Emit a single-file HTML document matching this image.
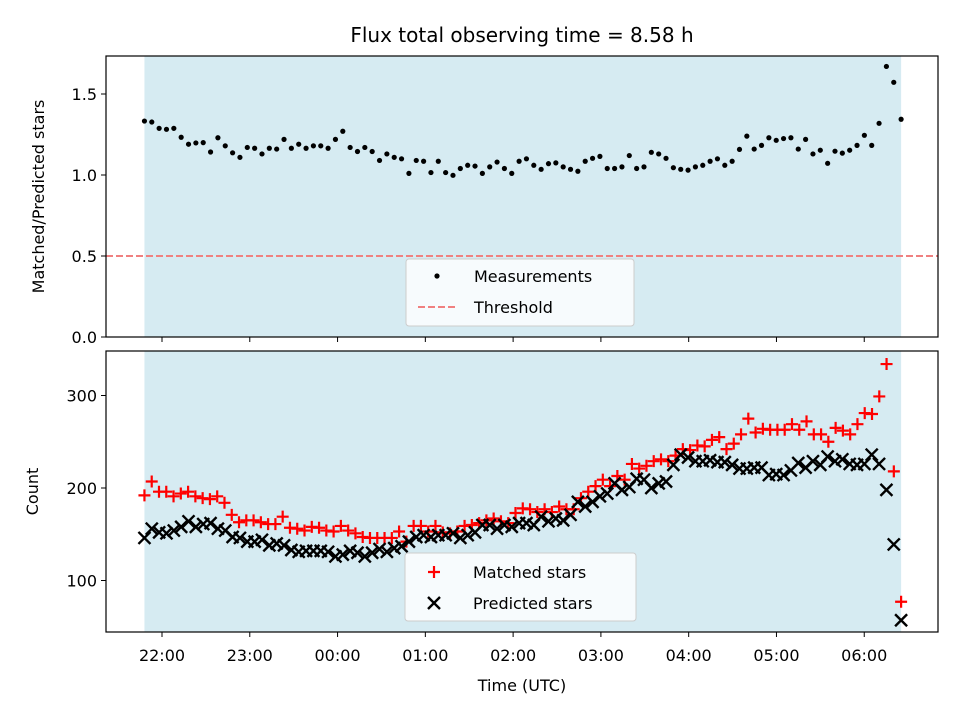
<!DOCTYPE html>
<html><head><meta charset="utf-8"><style>
body{margin:0;background:#fff;font-family:"Liberation Sans","DejaVu Sans",sans-serif}
svg text{font-family:"DejaVu Sans","Liberation Sans",sans-serif;fill:#000}
</style></head><body>
<svg id="chart" width="960" height="720" viewBox="0 0 960 720" xmlns="http://www.w3.org/2000/svg">
<rect width="960" height="720" fill="#fff"/>
<text x="522" y="42" font-size="20" text-anchor="middle">Flux total observing time = 8.58 h</text>
<g id="topPanel"></g><g id="botPanel"></g><g id="xaxis"></g>
</svg>
<script>
const ratioValues=[1.333,1.327,1.288,1.282,1.288,1.233,1.19,1.198,1.2,1.142,1.23,1.18,1.137,1.109,1.17,1.165,1.13,1.165,1.16,1.22,1.165,1.19,1.165,1.18,1.18,1.165,1.22,1.27,1.17,1.145,1.17,1.145,1.09,1.13,1.109,1.1,1.01,1.09,1.085,1.015,1.085,1.015,0.998,1.04,1.06,1.055,1.01,1.05,1.08,1.04,1.01,1.085,1.1,1.06,1.035,1.07,1.075,1.05,1.035,1.023,1.085,1.103,1.115,1.04,1.04,1.05,1.12,1.04,1.05,1.14,1.13,1.103,1.045,1.035,1.03,1.05,1.06,1.085,1.1,1.06,1.085,1.158,1.24,1.16,1.183,1.23,1.214,1.225,1.23,1.16,1.22,1.13,1.153,1.072,1.147,1.135,1.153,1.183,1.245,1.183,1.319,1.67,1.572,1.344];
const matchedValues=[192,207,196,196,191,194,196,191,189,188,191,184,171,163,165,165,163,161,161,169,157,156,154,158,157,154,153,159,154,151,147,146,146,146,146,153,142,159,159,153,159,152,151,153,159,160,162,165,167,164,162,173,178,177,174,177,174,180,177,177,189,196,202,209,202,213,209,226,221,224,229,231,229,235,242,241,246,245,252,255,242,248,258,275,260,264,263,263,263,269,263,272,258,258,250,265,262,258,269,281,280,299,334,218,77];
const predictedValues=[146,156,152,151,154,158,164,158,161,162,156,154,147,146,142,142,144,138,140,138,133,131,132,132,132,131,126,128,132,130,126,130,134,131,135,137,142,147,149,147,149,149,151,146,149,152,160,160,156,160,158,162,162,160,169,164,167,165,171,185,180,185,191,194,205,198,201,210,209,200,205,207,225,236,233,229,229,230,228,228,225,221,221,222,222,214,215,214,219,227,222,229,225,234,229,231,226,225,226,236,226,198,139,57];
const xTickLabels=["22:00","23:00","00:00","01:00","02:00","03:00","04:00","05:00","06:00"];
const xTickHours=[22,23,24,25,26,27,28,29,30];
const topYTicks=[0.0,0.5,1.0,1.5];
const botYTicks=[100,200,300];
const threshold=0.5;
const tStart=21.8, tEnd=30.42;

const NS="http://www.w3.org/2000/svg";
const L=106,R=938;
const xScale=h=>162+(h-22)*87.78;
const yTop=v=>337-v*162;
const yBot=v=>488-(v-200)*0.925;
function mk(tag,attrs,parent){const e=document.createElementNS(NS,tag);for(const k in attrs)e.setAttribute(k,attrs[k]);parent.appendChild(e);return e;}
const tOf=(i,n)=>tStart+i*(tEnd-tStart)/(n-1);

function panel(g,y0,y1,ticks,yf,fmt,label,name){
  const bg=mk('rect',{x:xScale(tStart),y:y0,width:xScale(tEnd)-xScale(tStart),height:y1-y0,fill:'#add8e6','fill-opacity':0.5},g);
  
  
  ticks.forEach(t=>{const y=yf(t);
    mk('line',{x1:L-5,x2:L,y1:y,y2:y,stroke:'#000','stroke-width':1},g);
    const tx=mk('text',{x:L-9,y:y+6,'font-size':16,'text-anchor':'end'},g);tx.textContent=fmt(t);
    
    });
  xTickHours.forEach(h=>mk('line',{x1:xScale(h),x2:xScale(h),y1:y1,y2:y1+5,stroke:'#000','stroke-width':1},g));
  const yl=mk('text',{transform:`translate(${name==='top'?44:38},${(y0+y1)/2}) rotate(-90)`,'font-size':16,'text-anchor':'middle'},g);
  yl.textContent=label;
  
  
}
const topG=document.getElementById('topPanel'),botG=document.getElementById('botPanel');
panel(topG,56,337,topYTicks,yTop,v=>v.toFixed(1),'Matched/Predicted stars','top');
const thr=mk('line',{x1:L,x2:R,y1:yTop(threshold),y2:yTop(threshold),stroke:'#f08080','stroke-width':2,'stroke-dasharray':'7,3'},topG);


ratioValues.forEach((v,i)=>{const c=mk('circle',{cx:xScale(tOf(i,ratioValues.length)),cy:yTop(v),r:2.6,fill:'#000'},topG);
  
  });
mk('rect',{x:L,y:56,width:R-L,height:281,fill:'none',stroke:'#000','stroke-width':1.2},topG);
const lg1=mk('rect',{x:406,y:259,width:228,height:67,rx:3,fill:'#fff','fill-opacity':0.8,stroke:'#ccc'},topG);


mk('circle',{cx:437,cy:276,r:2.6,fill:'#000'},topG);
let t=mk('text',{x:474,y:282,'font-size':16},topG);t.textContent='Measurements';
mk('line',{x1:418,x2:458,y1:307,y2:307,stroke:'#f08080','stroke-width':2,'stroke-dasharray':'7,3'},topG);
t=mk('text',{x:474,y:313,'font-size':16},topG);t.textContent='Threshold';

panel(botG,351,632,botYTicks,yBot,v=>String(v),'Count','bot');
function plus(x,y,g){return mk('path',{d:`M${x-6},${y}H${x+6}M${x},${y-6}V${y+6}`,stroke:'#f00','stroke-width':2.2},g);}
function cross(x,y,g){return mk('path',{d:`M${x-6},${y-6}L${x+6},${y+6}M${x-6},${y+6}L${x+6},${y-6}`,stroke:'#000','stroke-width':2.4},g);}
matchedValues.forEach((v,i)=>{const p=plus(xScale(tOf(i,matchedValues.length)),yBot(v),botG);
  
  });
predictedValues.forEach((v,i)=>{const p=cross(xScale(tOf(i,predictedValues.length)),yBot(v),botG);
  
  });
mk('rect',{x:L,y:351,width:R-L,height:281,fill:'none',stroke:'#000','stroke-width':1.2},botG);
const lg2=mk('rect',{x:405,y:553,width:231,height:68,rx:3,fill:'#fff','fill-opacity':0.8,stroke:'#ccc'},botG);


plus(434,572,botG);
t=mk('text',{x:473,y:578,'font-size':16},botG);t.textContent='Matched stars';
cross(434,603,botG);
t=mk('text',{x:473,y:609,'font-size':16},botG);t.textContent='Predicted stars';

const xa=document.getElementById('xaxis');
xTickLabels.forEach((lab,i)=>{const tx=mk('text',{x:xScale(xTickHours[i]),y:661,'font-size':16,'text-anchor':'middle'},xa);tx.textContent=lab;
  
  });
t=mk('text',{x:522,y:691,'font-size':16,'text-anchor':'middle'},xa);t.textContent='Time (UTC)';


</script>
</body></html>
